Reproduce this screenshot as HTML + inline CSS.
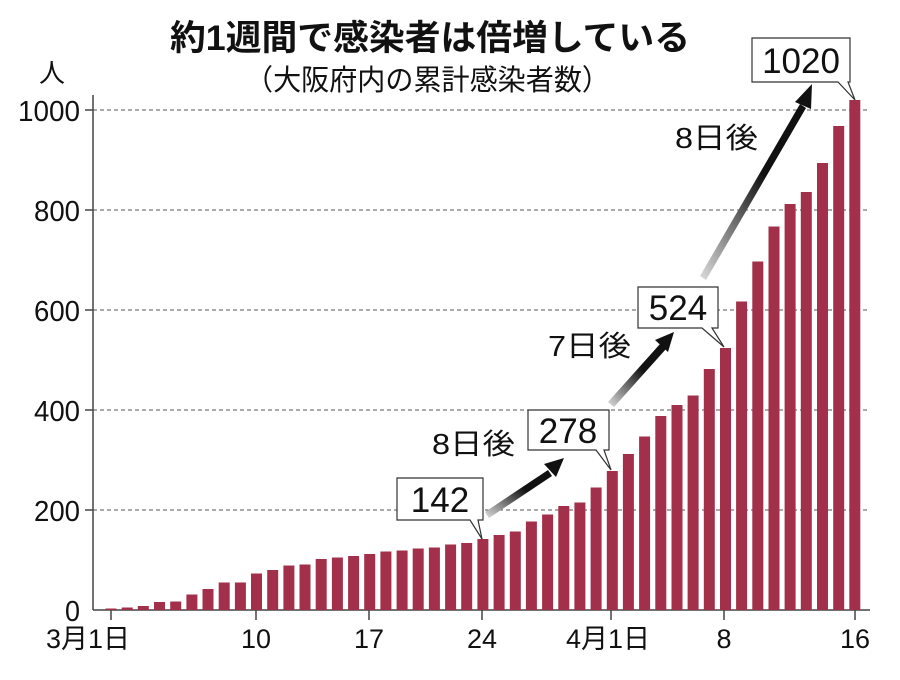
<!DOCTYPE html>
<html><head><meta charset="utf-8"><style>
html,body{margin:0;padding:0;background:#fff;}
svg{display:block;}
text{font-family:"Liberation Sans","Noto Sans CJK JP",sans-serif;fill:#111;}
</style></head><body>
<svg width="900" height="680" viewBox="0 0 900 680" xmlns="http://www.w3.org/2000/svg">
<defs>
<linearGradient id="g1" x1="0" y1="1" x2="1" y2="0"><stop offset="0" stop-color="#ddd"/><stop offset="0.6" stop-color="#111"/></linearGradient>
</defs>
<text x="170" y="50" font-size="35" font-weight="bold" textLength="520" lengthAdjust="spacingAndGlyphs">約1週間で感染者は倍増している</text>
<text x="245" y="90" font-size="29" textLength="365" lengthAdjust="spacingAndGlyphs">（大阪府内の累計感染者数）</text>
<text x="52" y="82" font-size="26" text-anchor="middle">人</text>
<g stroke="#555" stroke-width="1" stroke-dasharray="4,3">
<line x1="93" y1="110" x2="870" y2="110"/><line x1="93" y1="210" x2="870" y2="210"/>
<line x1="93" y1="310" x2="870" y2="310"/><line x1="93" y1="410" x2="870" y2="410"/>
<line x1="93" y1="510" x2="870" y2="510"/>
</g>
<g stroke="#444" stroke-width="1.5">
<line x1="93" y1="95" x2="93" y2="610"/><line x1="93" y1="610" x2="870" y2="610"/>
<line x1="85" y1="110" x2="93" y2="110"/><line x1="85" y1="210" x2="93" y2="210"/><line x1="85" y1="310" x2="93" y2="310"/><line x1="85" y1="410" x2="93" y2="410"/><line x1="85" y1="510" x2="93" y2="510"/>
<line x1="111" y1="610" x2="111" y2="620"/><line x1="256" y1="610" x2="256" y2="620"/><line x1="369" y1="610" x2="369" y2="620"/><line x1="482" y1="610" x2="482" y2="620"/><line x1="611" y1="610" x2="611" y2="620"/><line x1="724" y1="610" x2="724" y2="620"/><line x1="855" y1="610" x2="855" y2="620"/>
</g>
<g font-size="29" text-anchor="end">
<text x="80" y="121" textLength="62" lengthAdjust="spacingAndGlyphs">1000</text>
<text x="80" y="221" textLength="46" lengthAdjust="spacingAndGlyphs">800</text>
<text x="80" y="321" textLength="46" lengthAdjust="spacingAndGlyphs">600</text>
<text x="80" y="421" textLength="46" lengthAdjust="spacingAndGlyphs">400</text>
<text x="80" y="521" textLength="46" lengthAdjust="spacingAndGlyphs">200</text>
<text x="80" y="621" textLength="15" lengthAdjust="spacingAndGlyphs">0</text>
</g>
<g font-size="27" text-anchor="middle">
<text x="88" y="648">3月1日</text><text x="256" y="648">10</text><text x="369" y="648">17</text><text x="482" y="648">24</text><text x="608" y="648">4月1日</text><text x="724" y="648">8</text><text x="855" y="648">16</text>
</g>
<g id="bars" fill="#a3304a"></g>
<g>
<polygon points="485,512 548,470 552,476 489,518" fill="url(#g1)"/>
<polygon points="544,464 564,458 556,477" fill="#111"/>
<polygon points="608,402 660,344 666,349 614,407" fill="url(#g1)"/>
<polygon points="655,340 674,332 668,352" fill="#111"/>
<polygon points="700,276 800,104 806,108 706,280" fill="url(#g1)"/>
<polygon points="795,102 812,84 811,109" fill="#111"/>
</g>
<g font-size="29">
<text x="432" y="454" textLength="83" lengthAdjust="spacingAndGlyphs">8日後</text>
<text x="548" y="356" textLength="83" lengthAdjust="spacingAndGlyphs">7日後</text>
<text x="675" y="148" textLength="83" lengthAdjust="spacingAndGlyphs">8日後</text>
</g>
<g fill="#fff" stroke="#333" stroke-width="1.2">
<path d="M397,478 H483 V520 H478 L482,539 L470,520 H397 Z"/>
<path d="M528,410 H609 V450 H604 L611,470 L596,450 H528 Z"/>
<path d="M638,287 H718 V328 H712 L724,347 L702,328 H638 Z"/>
<path d="M752,38 H850 V82 H848 L855,100 L838,82 H752 Z"/>
</g>
<g font-size="35" text-anchor="middle">
<text x="440" y="512">142</text><text x="568" y="443">278</text><text x="678" y="320">524</text><text x="801" y="73">1020</text>
</g>
</svg>
<script>
var v=[3,5,8,16,17,31,42,55,55,73,80,89,91,102,105,108,112,117,119,123,125,131,134,142,150,157,177,191,208,215,245,278,312,347,388,410,429,482,524,617,697,767,812,836,894,968,1020];
var g=document.getElementById('bars'),s='';
for(var i=0;i<v.length;i++){var x=111+i*16.17-5.5,h=v[i]*0.5;s+='<rect x="'+x.toFixed(1)+'" y="'+(610-h).toFixed(1)+'" width="11" height="'+h.toFixed(1)+'"/>';}
g.innerHTML=s;
</script>
</body></html>
